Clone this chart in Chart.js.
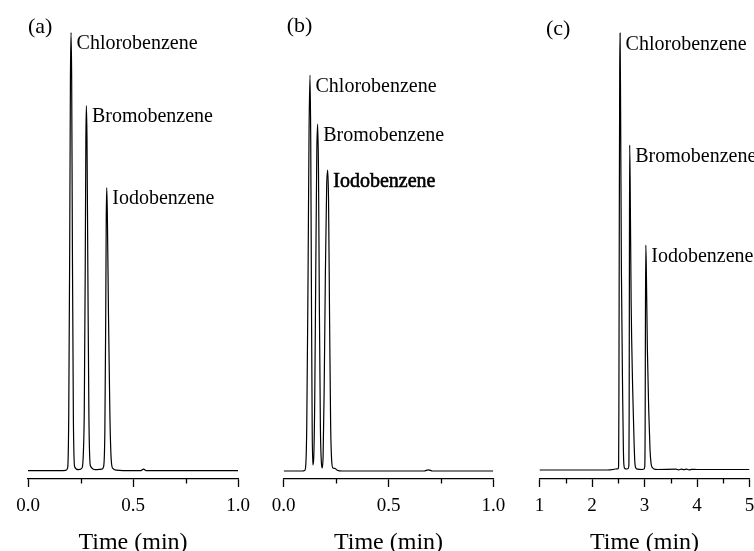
<!DOCTYPE html>
<html>
<head>
<meta charset="utf-8">
<title>Chromatograms</title>
<script src="https://cdn.jsdelivr.net/npm/chart.js@4.4.1/dist/chart.umd.min.js"></script>
<style>
  html, body { margin: 0; padding: 0; background: #fff; overflow: hidden; }
  body { width: 754px; height: 551px; position: relative; }
  canvas { position: absolute; top: 0; }
</style>
</head>
<body>
<canvas id="chartA" width="262" height="551" style="left:0px"></canvas>
<canvas id="chartB" width="260" height="551" style="left:258px"></canvas>
<canvas id="chartC" width="260" height="551" style="left:510px"></canvas>

<script>
// ===== Data (signal, baseline = 0) =====
const compounds = ["Chlorobenzene", "Bromobenzene", "Iodobenzene"];

// (a)
const timeA = [0.000, 0.150, 0.180, 0.189, 0.194, 0.1985, 0.202, 0.205, 0.208, 0.2115, 0.216, 0.222,
  0.240, 0.258, 0.264, 0.268, 0.2725, 0.2755, 0.278, 0.281, 0.285, 0.290, 0.297, 0.322, 0.352,
  0.360, 0.366, 0.370, 0.3725, 0.375, 0.378, 0.383, 0.390, 0.397, 0.405, 0.420, 0.500, 0.535,
  0.550, 0.565, 0.700, 1.000];
const signalA = [0, 0, 0.3, 3, 55, 220, 390, 438, 390, 220, 55, 4,
  1, 3, 20, 60, 200, 330, 365, 330, 200, 55, 5, 1, 1.5,
  4, 40, 150, 250, 283, 255, 160, 55, 9, 2, 0.6, 0, 0,
  1.5, 0, 0, 0];
const peakTimeA = [0.205, 0.278, 0.375];
const peakSignalA = [438, 365, 283];

// (b)
const timeB = [0.000, 0.090, 0.100, 0.105, 0.110, 0.116, 0.121, 0.1255, 0.129, 0.1325, 0.136, 0.139,
  0.143, 0.148, 0.153, 0.158, 0.162, 0.166, 0.170, 0.175, 0.180, 0.184, 0.188, 0.193, 0.199,
  0.205, 0.210, 0.214, 0.219, 0.224, 0.229, 0.235, 0.245, 0.255, 0.280, 0.670, 0.690, 0.710, 1.000];
const signalB = [0, 0, 0.5, 5, 45, 190, 340, 396, 330, 170, 40, 6,
  12, 70, 200, 320, 347, 300, 170, 45, 8, 3, 15, 80, 200,
  285, 301, 270, 150, 45, 10, 3, 2.5, 0.8, 0, 0, 1.2, 0, 0];
const peakTimeB = [0.1255, 0.162, 0.210];
const peakSignalB = [396, 347, 301];

// (c)
const timeC = [1.00, 2.30, 2.40, 2.45, 2.50, 2.507, 2.512, 2.520, 2.528, 2.535, 2.545, 2.560, 2.585,
  2.598, 2.607, 2.625, 2.660, 2.690, 2.703, 2.708, 2.713, 2.718, 2.728, 2.745, 2.775, 2.800,
  2.815, 2.830, 2.870, 2.950, 2.990, 3.005, 3.012, 3.018, 3.025, 3.035, 3.055, 3.080, 3.105,
  3.125, 3.150, 3.180, 3.250, 3.600, 3.650, 3.700, 3.750, 3.800, 3.850, 3.900, 4.000, 5.000];
const signalC = [-0.5, -0.5, 0, 0.5, 0.8, 4, 60, 250, 400, 436.5, 360, 200, 70,
  20, 5, 1, 0.5, 1, 5, 60, 220, 324.5, 280, 170, 80, 30,
  8, 2, 0.3, 0, 0.5, 3, 40, 150, 224.5, 200, 120, 60, 20,
  6, 2, 0.5, 0, 0.3, -0.3, 0.4, -0.2, 0.3, -0.3, 0.2, 0, 0];
const peakTimeC = [2.535, 2.718, 3.025];
const peakSignalC = [436.5, 324.5, 224.5];

// ===== Axis ticks =====
const majorTicksA = [0, 0.5, 1.0];
const minorTicksA = [0.25, 0.75];
const tickLabelsA = ["0.0", "0.5", "1.0"];
const majorTicksC = [1, 2, 3, 4, 5];
const minorTicksC = [1.5, 2.5, 3.5, 4.5];
const tickLabelsC = ["1", "2", "3", "4", "5"];

const SERIF = '"Liberation Serif", "Times New Roman", Times, serif';

// ---- plugin: minor ticks, panel letter, peak names
const panelDeco = {
  id: "panelDeco",
  afterDraw(chart, args, opts) {
    const { ctx, chartArea } = chart;
    const xs = chart.scales.x;
    const ys = chart.scales.y;
    ctx.save();

    ctx.strokeStyle = "#000";
    ctx.lineWidth = 1.3;
    (opts.minor || []).forEach((v) => {
      const px = Math.round(xs.getPixelForValue(v)) + 0.5;
      ctx.beginPath();
      ctx.moveTo(px, chartArea.bottom);
      ctx.lineTo(px, chartArea.bottom + 4.5);
      ctx.stroke();
    });

    ctx.fillStyle = "#000";
    ctx.textBaseline = "alphabetic";
    ctx.textAlign = "left";
    ctx.font = "22px " + SERIF;
    ctx.fillText(opts.letter, chartArea.left + opts.letterDx, opts.letterY);

    ctx.font = "20px " + SERIF;
    opts.names.forEach((name, i) => {
      const x = xs.getPixelForValue(opts.times[i]) + 5.5;
      const y = ys.getPixelForValue(opts.heights[i]) + 16.5;
      ctx.fillText(name, x, y);
      if (i === opts.boldIndex) {
        ctx.lineWidth = 0.6;
        ctx.strokeText(name, x, y);
      }
    });
    ctx.restore();
  },
};

function makePanel(canvasId, times, signal, cfg) {
  const points = times.map((t, i) => ({ x: t, y: signal[i] }));
  const ctx = document.getElementById(canvasId).getContext("2d");
  return new Chart(ctx, {
    type: "line",
    data: {
      datasets: [
        {
          data: points,
          borderColor: "#000",
          borderWidth: 1.2,
          pointRadius: 0,
          fill: false,
          cubicInterpolationMode: "monotone",
        },
      ],
    },
    options: {
      responsive: false,
      animation: false,
      devicePixelRatio: 1,
      layout: { padding: { top: 20, bottom: 0, left: cfg.padLeft, right: cfg.padRight } },
      plugins: {
        legend: { display: false },
        tooltip: { enabled: false },
        panelDeco: {
          letter: cfg.letter,
          letterDx: cfg.letterDx,
          letterY: cfg.letterY,
          minor: cfg.minor,
          names: compounds,
          times: cfg.peakTimes,
          heights: cfg.peakSignals,
          boldIndex: cfg.boldIndex,
        },
      },
      scales: {
        x: {
          type: "linear",
          min: cfg.min,
          max: cfg.max,
          afterBuildTicks: (s) => {
            s.ticks = cfg.major.map((v) => ({ value: v }));
          },
          afterFit: (s) => {
            s.height = 72;
          },
          border: { display: true, color: "#000", width: 1.3 },
          grid: {
            drawOnChartArea: false,
            drawTicks: true,
            tickLength: 8,
            tickColor: "#000",
            tickWidth: 1.3,
          },
          ticks: {
            autoSkip: false,
            maxRotation: 0,
            padding: 8,
            color: "#000",
            font: { family: SERIF, size: 19 },
            callback: (v, i) => cfg.labels[i],
          },
          title: {
            display: true,
            text: "Time (min)",
            color: "#000",
            font: { family: SERIF, size: 24, lineHeight: 0.6 },
            padding: { top: 0, bottom: 1 },
          },
        },
        y: {
          display: false,
          min: cfg.yMin,
          max: cfg.yMin + 459,
        },
      },
    },
    plugins: [panelDeco],
  });
}

// canvas widths leave room on the right for the last tick label
makePanel("chartA", timeA, signalA, {
  padLeft: 28, padRight: 24, min: 0, max: 1,
  major: majorTicksA, minor: minorTicksA, labels: tickLabelsA,
  yMin: -8.3, letter: "(a)", letterDx: 0, letterY: 33,
  peakTimes: peakTimeA, peakSignals: peakSignalA, boldIndex: -1,
});

makePanel("chartB", timeB, signalB, {
  padLeft: 25.7, padRight: 24.7, min: 0, max: 1,
  major: majorTicksA, minor: minorTicksA, labels: tickLabelsA,
  yMin: -8, letter: "(b)", letterDx: 3, letterY: 32,
  peakTimes: peakTimeB, peakSignals: peakSignalB, boldIndex: 2,
});

makePanel("chartC", timeC, signalC, {
  padLeft: 29.5, padRight: 20.5, min: 1, max: 5,
  major: majorTicksC, minor: minorTicksC, labels: tickLabelsC,
  yMin: -9.5, letter: "(c)", letterDx: 6.5, letterY: 35,
  peakTimes: peakTimeC, peakSignals: peakSignalC, boldIndex: -1,
});
</script>
</body>
</html>
